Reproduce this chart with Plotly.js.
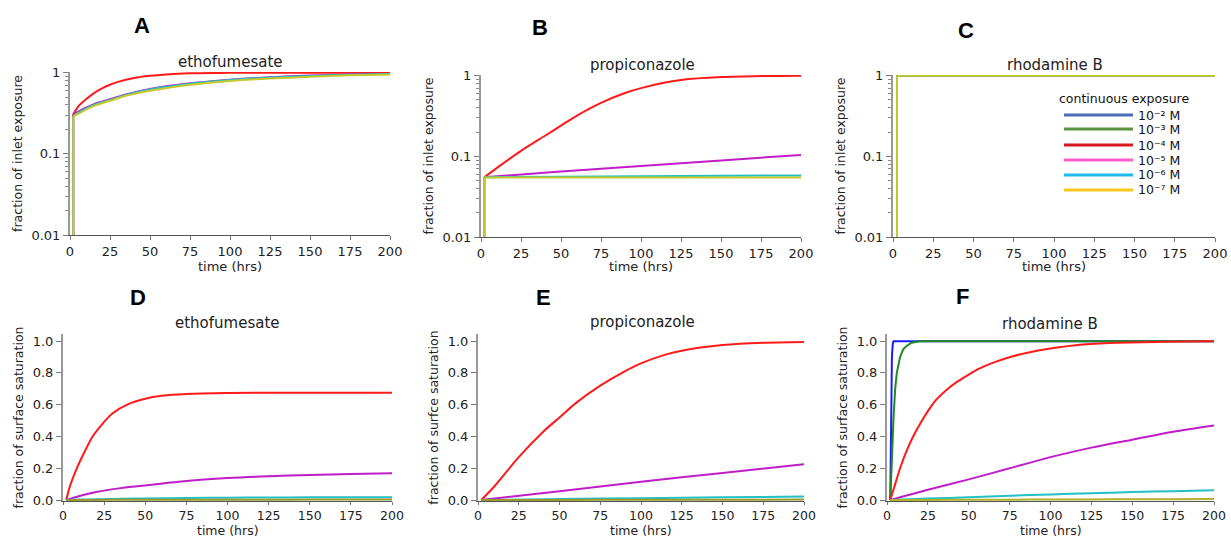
<!DOCTYPE html>
<html>
<head>
<meta charset="utf-8">
<script src="https://cdn.plot.ly/plotly-3.0.1.min.js"></script>
<style>html,body{margin:0;padding:0;background:#fff}#chart{width:1231px;height:537px}</style>
</head>
<body>
<div id="chart"></div>
<script>
// ---------- DATA ----------
// Panel A: ethofumesate, fraction of inlet exposure (log); curves begin at t = 2 h after a vertical rise
const tA_red = [2, 6, 10, 15, 20, 25, 30, 40, 50, 60, 75, 100, 125, 200];
const A_red  = [0.31, 0.40, 0.47, 0.56, 0.64, 0.71, 0.77, 0.86, 0.915, 0.95, 0.98, 0.995, 1.0, 1.0];
const tA = [2, 5, 10, 15, 25, 35, 50, 75, 100, 125, 150, 175, 200];
const A_mag  = [0.30, 0.33, 0.37, 0.41, 0.47, 0.54, 0.63, 0.74, 0.82, 0.88, 0.92, 0.95, 0.97];
const A_cyan = [0.295, 0.32, 0.36, 0.40, 0.46, 0.53, 0.62, 0.73, 0.81, 0.87, 0.91, 0.94, 0.96];
const A_yel  = [0.29, 0.31, 0.35, 0.39, 0.45, 0.52, 0.60, 0.71, 0.79, 0.85, 0.89, 0.93, 0.95];

// Panel B: propiconazole, fraction of inlet exposure (log)
const tB_red = [2, 10, 25, 40, 50, 60, 75, 90, 100, 115, 125, 150, 175, 200];
const B_red  = [0.055, 0.072, 0.117, 0.18, 0.24, 0.32, 0.46, 0.61, 0.70, 0.82, 0.885, 0.96, 0.99, 1.0];
const tB = [2, 50, 100, 150, 200];
const B_mag  = [0.055, 0.065, 0.076, 0.089, 0.104];
const B_cyan = [0.055, 0.0558, 0.0566, 0.0573, 0.058];
const B_yel  = [0.0545, 0.0545, 0.0545, 0.0545, 0.0545];

// Panel C: rhodamine B, fraction of inlet exposure (log) - all concentrations identical
const tC = [2.5, 200];
const C_all = [1.0, 1.0];

// lower end of the vertical rise drawn in the log panels (below the axis floor)
const riseFloor = 0.005;

// Panel D: ethofumesate, fraction of surface saturation
const tD_red = [2, 4, 8, 12, 18, 24, 30, 40, 50, 60, 75, 100, 150, 200];
const D_red  = [0, 0.08, 0.19, 0.28, 0.40, 0.48, 0.545, 0.605, 0.638, 0.656, 0.668, 0.674, 0.676, 0.676];
const tD = [2, 10, 20, 35, 50, 75, 100, 125, 150, 175, 200];
const D_mag  = [0, 0.025, 0.05, 0.075, 0.092, 0.12, 0.138, 0.15, 0.158, 0.164, 0.168];
const D_cyan = [0, 0.003, 0.005, 0.008, 0.01, 0.013, 0.015, 0.016, 0.017, 0.0175, 0.018];
const D_yel  = [0, 0.001, 0.001, 0.002, 0.002, 0.002, 0.002, 0.002, 0.003, 0.003, 0.003];

// Panel E: propiconazole, fraction of surface saturation
const tE_red = [2, 10, 25, 40, 50, 60, 75, 90, 100, 115, 125, 150, 175, 200];
const E_red  = [0, 0.085, 0.27, 0.43, 0.52, 0.61, 0.72, 0.81, 0.86, 0.915, 0.94, 0.975, 0.99, 0.995];
const tE = [2, 50, 100, 150, 200];
const E_mag  = [0, 0.055, 0.115, 0.17, 0.225];
const E_cyan = [0, 0.006, 0.012, 0.017, 0.022];
const E_yel  = [0, 0.001, 0.002, 0.002, 0.003];

// Panel F: rhodamine B, fraction of surface saturation
const tF_blue = [2, 2.5, 3, 3.5, 4, 200];
const F_blue  = [0, 0.6, 0.9, 0.98, 1.0, 1.0];
const tF_green = [2, 3, 4, 5, 6, 8, 10, 12, 15, 20, 200];
const F_green  = [0, 0.3, 0.52, 0.7, 0.8, 0.9, 0.95, 0.97, 0.99, 1.0, 1.0];
const tF_red = [2, 5, 8, 12, 16, 20, 26, 30, 36, 43, 50, 57, 65, 77, 88, 98, 118, 140, 170, 200];
const F_red  = [0, 0.1, 0.2, 0.31, 0.40, 0.475, 0.575, 0.63, 0.69, 0.745, 0.79, 0.83, 0.865, 0.905, 0.932, 0.95, 0.977, 0.99, 0.997, 1.0];
const tF = [2, 25, 50, 75, 100, 125, 150, 175, 200];
const F_mag  = [0, 0.065, 0.13, 0.2, 0.27, 0.33, 0.38, 0.43, 0.47];
const F_cyan = [0, 0.009, 0.018, 0.027, 0.035, 0.043, 0.05, 0.056, 0.062];
const F_yel  = [0, 0.001, 0.002, 0.002, 0.004, 0.004, 0.005, 0.005, 0.006];

// Legend
const legendTitle = 'continuous exposure';
const legendLabels = ['10\u207B\u00B2 M', '10\u207B\u00B3 M', '10\u207B\u2074 M', '10\u207B\u2075 M', '10\u207B\u2076 M', '10\u207B\u2077 M'];
const legendColors = ['#4a6db5', '#5a9440', '#d81820', '#ff60c8', '#20b8f0', '#ffc820'];

// Panel texts
const panelLetters = ['A', 'B', 'C', 'D', 'E', 'F'];
const panelTitles = ['ethofumesate', 'propiconazole', 'rhodamine B', 'ethofumesate', 'propiconazole', 'rhodamine B'];
const xTitle = 'time (hrs)';
const yTitles = ['fraction of inlet exposure', 'fraction of inlet exposure', 'fraction of inlet exposure',
                 'fraction of surface saturation', 'fraction of surfce saturation', 'fraction of surface saturation'];
const xTickVals = [0, 25, 50, 75, 100, 125, 150, 175, 200];
const logTickVals = [0.01, 0.1, 1];
const logTickText = ['0.01', '0.1', '1'];
const logMinorVals = [0.02, 0.03, 0.04, 0.05, 0.06, 0.07, 0.08, 0.09, 0.2, 0.3, 0.4, 0.5, 0.6, 0.7, 0.8, 0.9];
const linTickVals = [0, 0.2, 0.4, 0.6, 0.8, 1.0];
const linTickText = ['0.0', '0.2', '0.4', '0.6', '0.8', '1.0'];

// ---------- STYLE ----------
const COL = {blue: '#1a1aff', green: '#1f8a1f', red: '#ff1a1a', mag: '#c01cc8', cyan: '#22c0c4', yel: '#c8c82a', olive: '#9a9a2a'};
const FONT = 'DejaVu Sans, sans-serif';
const W = 1231, H = 537;

function tr(x, y, color, n, smooth) {
  return {x: x, y: y, type: 'scatter', mode: 'lines', xaxis: 'x' + n, yaxis: 'y' + n,
          line: {color: color, width: 2, shape: smooth ? 'spline' : 'linear', smoothing: 0.8},
          showlegend: false, hoverinfo: 'skip'};
}
// vertical rise at the start time for the log panels, then the smooth curve
function logCurve(t, y, color, n) {
  return [tr([t[0], t[0]], [riseFloor, y[0]], color, n, false), tr(t, y, color, n, true)];
}

const traces = [].concat(
  logCurve(tA_red, A_red, COL.red, ''),
  logCurve(tA, A_mag, COL.mag, ''),
  logCurve(tA, A_cyan, COL.cyan, ''),
  logCurve(tA, A_yel, COL.yel, ''),

  logCurve(tB_red, B_red, COL.red, '2'),
  logCurve(tB, B_mag, COL.mag, '2'),
  logCurve(tB, B_cyan, COL.cyan, '2'),
  logCurve(tB, B_yel, COL.yel, '2'),

  logCurve(tC, C_all, COL.blue, '3'),
  logCurve(tC, C_all, COL.green, '3'),
  logCurve(tC, C_all, COL.red, '3'),
  logCurve(tC, C_all, COL.mag, '3'),
  logCurve(tC, C_all, COL.cyan, '3'),
  logCurve(tC, C_all, COL.yel, '3'),

  [tr(tD_red, D_red, COL.red, '4', true),
   tr(tD, D_mag, COL.mag, '4', true),
   tr(tD, D_cyan, COL.cyan, '4', true),
   tr(tD, D_yel, COL.olive, '4', true),

   tr(tE_red, E_red, COL.red, '5', true),
   tr(tE, E_mag, COL.mag, '5', true),
   tr(tE, E_cyan, COL.cyan, '5', true),
   tr(tE, E_yel, COL.olive, '5', true),

   tr(tF_blue, F_blue, COL.blue, '6', false),
   tr(tF_green, F_green, COL.green, '6', false),
   tr(tF_red, F_red, COL.red, '6', true),
   tr(tF, F_mag, COL.mag, '6', true),
   tr(tF, F_cyan, COL.cyan, '6', true),
   tr(tF, F_yel, '#b0b02a', '6', true)]
);

// Plot areas in pixels [x0, x1, yTop, yBottom]
const boxes = [
  [70, 390, 72, 235],
  [481, 801, 75, 237],
  [893, 1215, 75, 237],
  [63, 392, 334, 501],
  [478, 804, 334, 501],
  [887, 1214, 334, 501]
];

const layout = {
  width: W, height: H, margin: {l: 0, r: 0, t: 0, b: 0},
  paper_bgcolor: '#fff', plot_bgcolor: '#fff',
  font: {family: FONT, size: 13, color: '#222'},
  showlegend: false, annotations: [], shapes: []
};

function ann(text, px, py, size, anchor, extra) {
  return Object.assign({text: text, xref: 'paper', yref: 'paper', x: px / W, y: 1 - py / H,
    xanchor: anchor || 'center', yanchor: 'middle', showarrow: false,
    font: {family: FONT, size: size, color: '#222'}}, extra || {});
}

const xTitleY = [266, 266, 266, 530, 530, 530];
boxes.forEach((b, i) => {
  const n = i === 0 ? '' : String(i + 1);
  const isLog = i < 3;
  layout['xaxis' + n] = {
    domain: [b[0] / W, b[1] / W], anchor: 'y' + n, range: [0, 200],
    tickvals: xTickVals,
    ticks: 'outside', ticklen: isLog ? 4 : 3, tickwidth: 1, tickcolor: '#777',
    showline: true, linecolor: '#555', linewidth: 1,
    showgrid: false, zeroline: false,
    tickfont: {family: FONT, size: isLog ? 13 : 12.5, color: '#222'}
  };
  const ya = {
    domain: [1 - b[3] / H, 1 - b[2] / H], anchor: 'x' + n,
    ticks: 'outside', ticklen: 5, tickwidth: 1, tickcolor: '#777',
    showline: true, linecolor: '#999', linewidth: 2,
    showgrid: false, zeroline: false,
    tickfont: {family: FONT, size: 13, color: '#222'},
    title: {text: yTitles[i], font: {family: FONT, size: 12.5, color: '#222'}, standoff: 6}
  };
  if (isLog) {
    ya.type = 'log';
    ya.range = [-2, 0.008];
    ya.tickvals = logTickVals;
    ya.ticktext = logTickText;
    ya.minor = {ticks: 'outside', ticklen: 3, tickcolor: '#888', tickvals: logMinorVals, showgrid: false};
  } else {
    ya.range = [-0.006, 1.045];
    ya.tickvals = linTickVals;
    ya.ticktext = linTickText;
  }
  layout['yaxis' + n] = ya;
  layout.annotations.push(ann(xTitle, (b[0] + b[1]) / 2, xTitleY[i], isLog ? 13 : 12.5));
});

// Panel letters and titles
const letterPos = [[142, 25], [540, 27], [966, 30], [138, 297], [543, 297], [963, 296]];
const titlePos = [[230, 62], [642, 65], [1055, 65], [227, 323], [642, 322], [1050, 324]];
panelLetters.forEach((L, i) => {
  layout.annotations.push(ann('<b>' + L + '</b>', letterPos[i][0], letterPos[i][1], 22, 'center',
    {font: {family: 'Liberation Sans, Arial, sans-serif', size: 22, color: '#000'}}));
  layout.annotations.push(ann(panelTitles[i], titlePos[i][0], titlePos[i][1], 15));
});

// Legend inside panel C
layout.annotations.push(ann(legendTitle, 1124, 98, 12.5, 'center', {font: {family: FONT, size: 12.5, color: '#111'}}));
const legY = [115, 129, 145, 160, 175, 190];
legendLabels.forEach((lab, i) => {
  layout.shapes.push({type: 'line', xref: 'paper', yref: 'paper',
    x0: 1064 / W, x1: 1133 / W, y0: 1 - legY[i] / H, y1: 1 - legY[i] / H,
    line: {color: legendColors[i], width: 3}});
  layout.annotations.push(ann(lab, 1136, legY[i], 12.5, 'left', {font: {family: FONT, size: 12.5, color: '#111'}}));
});

Plotly.newPlot('chart', traces, layout, {staticPlot: true, displayModeBar: false});
</script>
</body>
</html>
